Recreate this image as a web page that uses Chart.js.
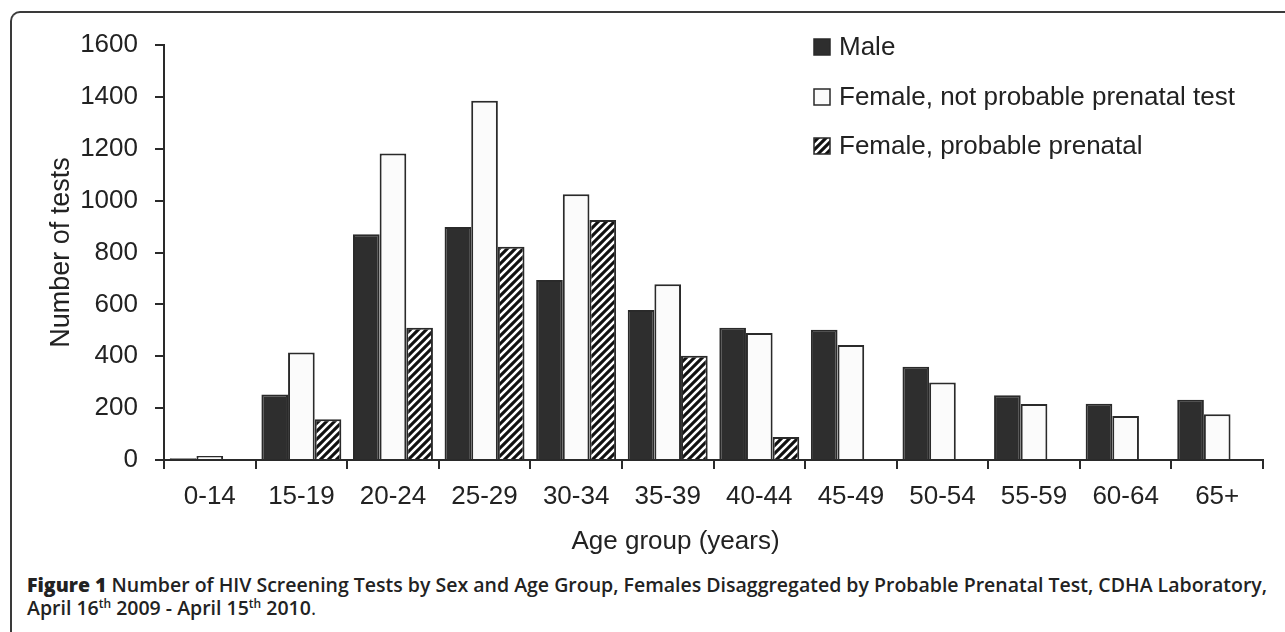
<!DOCTYPE html>
<html>
<head>
<meta charset="utf-8">
<script src="https://cdn.jsdelivr.net/npm/chart.js@4.4.1/dist/chart.umd.min.js"></script>
<style>
  html, body { margin: 0; padding: 0; background: #fff; }
  body { width: 1285px; height: 632px; position: relative; overflow: hidden; }
  #frame {
    position: absolute; left: 10px; top: 11px; width: 1400px; height: 700px;
    border-left: 2px solid #3a3a3a; border-top: 2px solid #3a3a3a;
    border-top-left-radius: 10px;
  }
  #chart { position: absolute; left: 0; top: 0; }
  #caption {
    position: absolute; left: 27px; top: 573px; width: 1258px;
    font-family: "Open Sans", sans-serif; font-size: 19.5px; line-height: 23px;
    color: #222; font-weight: 600; white-space: nowrap;
  }
  #caption b { font-weight: 800; }
  #caption sup { font-size: 12px; line-height: 0; }
  #caption .end { font-weight: 400; }
</style>
</head>
<body>
<div id="frame"></div>
<canvas id="chart" width="1285" height="565"></canvas>
<div id="caption"><b>Figure 1</b> Number of HIV Screening Tests by Sex and Age Group, Females Disaggregated by Probable Prenatal Test, CDHA Laboratory,<br>April 16<sup>th</sup> 2009 - April 15<sup>th</sup> 2010<span class="end">.</span></div>
<script>
var ageGroups = ['0-14', '15-19', '20-24', '25-29', '30-34', '35-39', '40-44', '45-49', '50-54', '55-59', '60-64', '65+'];
var male = [7, 253, 870, 898, 694, 578, 510, 502, 360, 250, 217, 232];
var femaleNotPrenatal = [15, 414, 1182, 1385, 1025, 678, 490, 443, 299, 216, 170, 176];
var femalePrenatal = [null, 157, 510, 822, 925, 402, 89, null, null, null, null, null];
var seriesLabels = ['Male', 'Female, not probable prenatal test', 'Female, probable prenatal'];

var axisColor = '#2a2a2a';
var textColor = '#222';
var fontFamily = '"Liberation Sans", Arial, sans-serif';

// black with white "/" stripes
function makeHatch() {
    var c = document.createElement('canvas');
    c.width = 8;
    c.height = 8;
    var g = c.getContext('2d');
    g.fillStyle = '#111';
    g.fillRect(0, 0, 8, 8);
    g.strokeStyle = '#fff';
    g.lineWidth = 2.6;
    g.beginPath();
    g.moveTo(-2, 10); g.lineTo(10, -2);
    g.moveTo(-6, 6); g.lineTo(6, -6);
    g.moveTo(2, 14); g.lineTo(14, 2);
    g.stroke();
    return document.getElementById('chart').getContext('2d').createPattern(c, 'repeat');
}
var hatch = makeHatch();

// vertical legend in the top right of the plot
var cornerLegend = {
    id: 'cornerLegend',
    afterDraw: function (chart) {
        var ctx = chart.ctx;
        var rows = [47, 97, 146];
        ctx.save();
        ctx.font = '26px ' + fontFamily;
        ctx.textBaseline = 'middle';
        chart.data.datasets.forEach(function (ds, i) {
            var y = rows[i];
            ctx.fillStyle = ds.backgroundColor;
            ctx.fillRect(814, y - 8, 16, 16);
            ctx.strokeStyle = axisColor;
            ctx.lineWidth = 1.5;
            ctx.strokeRect(814, y - 8, 16, 16);
            ctx.fillStyle = textColor;
            ctx.fillText(ds.label, 839, y + 1);
        });
        ctx.restore();
    }
};

// x title sits a little left of centre in the original
var xTitle = {
    id: 'xTitle',
    afterDraw: function (chart) {
        var ctx = chart.ctx;
        var area = chart.chartArea;
        ctx.save();
        ctx.font = '26px ' + fontFamily;
        ctx.fillStyle = textColor;
        ctx.textAlign = 'center';
        ctx.textBaseline = 'middle';
        ctx.fillText('Age group (years)', (area.left + area.right) / 2 - 38, 542);
        ctx.restore();
    }
};

new Chart(document.getElementById('chart'), {
    type: 'bar',
    data: {
        labels: ageGroups,
        datasets: [
            {
                label: seriesLabels[0],
                data: male,
                backgroundColor: '#2e2e2e',
                borderColor: axisColor,
                borderWidth: 2
            },
            {
                label: seriesLabels[1],
                data: femaleNotPrenatal,
                backgroundColor: '#fbfbfb',
                borderColor: axisColor,
                borderWidth: 2
            },
            {
                label: seriesLabels[2],
                data: femalePrenatal,
                backgroundColor: hatch,
                borderColor: axisColor,
                borderWidth: 2
            }
        ]
    },
    options: {
        responsive: false,
        animation: false,
        layout: { padding: { left: 0, top: 45, right: 22, bottom: 0 } },
        datasets: {
            bar: { categoryPercentage: 0.873, barPercentage: 1.0 }
        },
        plugins: {
            legend: { display: false },
            tooltip: { enabled: false }
        },
        scales: {
            x: {
                grid: { offset: true, drawOnChartArea: false, tickLength: 9, color: axisColor, lineWidth: 2 },
                border: { display: true, color: axisColor, width: 2 },
                ticks: { color: textColor, font: { family: fontFamily, size: 26 }, padding: 12, maxRotation: 0 },
                afterFit: function (scale) { scale.height = 105; }
            },
            y: {
                min: 0,
                max: 1600,
                grid: { drawOnChartArea: false, tickLength: 9, color: axisColor, lineWidth: 2 },
                border: { display: true, color: axisColor, width: 2 },
                ticks: {
                    stepSize: 200,
                    color: textColor,
                    font: { family: fontFamily, size: 26 },
                    padding: 17,
                    callback: function (v) { return String(v); }
                },
                title: {
                    display: true,
                    text: 'Number of tests',
                    color: textColor,
                    font: { family: fontFamily, size: 27 },
                    padding: { top: 45, bottom: 0 }
                },
                afterFit: function (scale) { scale.width = 164; }
            }
        }
    },
    plugins: [cornerLegend, xTitle]
});
</script>
</body>
</html>
